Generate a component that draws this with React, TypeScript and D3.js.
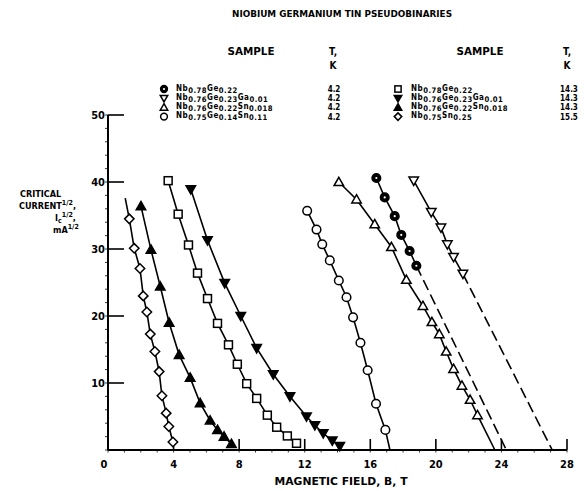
import React from 'react';
import * as d3 from 'd3';

type P = [number, number];

const xTickValues = [0, 4, 8, 12, 16, 20, 24, 28];
const yTickValues = [10, 20, 30, 40, 50];
const xMinorValues = d3.range(0, 29, 1);
const yMinorValues = d3.range(0, 51, 2);

// 15.5 K  Nb0.75Sn0.25 (open diamonds)
const diamond155: P[] = [[1.3, 34.5], [1.6, 30.1], [1.95, 27.1], [2.15, 23.0], [2.37, 20.6], [2.58, 17.3], [2.86, 14.7], [3.12, 11.7], [3.29, 8.1], [3.55, 5.5], [3.71, 3.5], [3.96, 1.2]];
const diamond155Start: P = [1.05, 37.6];
// 14.3 K  Nb0.76Ge0.22Sn0.018 (filled up triangles)
const filledUp143: P[] = [[2.01, 36.4], [2.62, 29.9], [3.19, 24.4], [3.73, 19.0], [4.34, 14.2], [5.01, 10.8], [5.62, 7.0], [6.23, 4.4], [6.68, 3.0], [7.08, 2.0], [7.53, 0.9]];
// 14.3 K  Nb0.78Ge0.22 (open squares)
const square143: P[] = [[3.67, 40.2], [4.28, 35.2], [4.91, 30.6], [5.46, 26.4], [6.07, 22.6], [6.68, 18.9], [7.35, 15.7], [7.89, 12.8], [8.46, 9.9], [9.07, 7.7], [9.72, 5.2], [10.29, 3.4], [10.94, 2.1], [11.5, 1.0]];
// 14.3 K  Nb0.76Ge0.23Ga0.01 (filled down triangles)
const filledDown143: P[] = [[5.05, 38.9], [6.07, 31.3], [7.12, 24.9], [8.1, 20.0], [9.07, 15.2], [10.08, 11.3], [11.1, 8.0], [12.11, 5.0], [12.62, 3.7], [13.13, 2.5], [13.68, 1.4], [14.14, 0.6]];
// 4.2 K  Nb0.75Ge0.14Sn0.11 (open circles)
const circle42: P[] = [[12.15, 35.7], [12.72, 32.9], [13.07, 30.7], [13.53, 28.3], [14.08, 25.3], [14.55, 22.8], [14.95, 19.8], [15.4, 16.0], [15.84, 11.9], [16.35, 6.9], [16.92, 3.0]];
const circle42End: P = [17.2, 0];
// 4.2 K  Nb0.76Ge0.22Sn0.018 (open up triangles)
const up42: P[] = [[14.08, 40.0], [15.16, 37.4], [16.27, 33.7], [17.29, 30.3], [18.2, 25.4], [19.21, 21.5], [19.76, 19.1], [20.21, 17.3], [20.63, 14.7], [21.08, 12.1], [21.59, 9.6], [22.09, 7.5], [22.54, 5.2]];
const up42End: P = [23.6, 0];
// 4.2 K  Nb0.78Ge0.22 (filled circles)
const filledCircle42: P[] = [[16.37, 40.6], [16.88, 37.7], [17.49, 34.9], [17.89, 32.1], [18.4, 29.7], [18.81, 27.5]];
const filledCircle42Extrap: P = [24.3, 0];
// 4.2 K  Nb0.76Ge0.23Ga0.01 (open down triangles)
const down42: P[] = [[18.65, 40.2], [19.72, 35.5], [20.31, 33.2], [20.7, 30.7], [21.08, 28.8], [21.65, 26.3]];
const down42Extrap: P = [27.1, 0];

type Part = [string, boolean];
const legendFormulasLeft: Part[][] = [
  [['Nb', false], ['0.78', true], ['Ge', false], ['0.22', true]],
  [['Nb', false], ['0.76', true], ['Ge', false], ['0.23', true], ['Ga', false], ['0.01', true]],
  [['Nb', false], ['0.76', true], ['Ge', false], ['0.22', true], ['Sn', false], ['0.018', true]],
  [['Nb', false], ['0.75', true], ['Ge', false], ['0.14', true], ['Sn', false], ['0.11', true]],
];
const legendTempsLeft = ['4.2', '4.2', '4.2', '4.2'];
const legendShapesLeft = ['circle', 'down', 'up', 'circle'];
const legendFillLeft = [true, false, false, false];
const legendFormulasRight: Part[][] = [
  [['Nb', false], ['0.78', true], ['Ge', false], ['0.22', true]],
  [['Nb', false], ['0.76', true], ['Ge', false], ['0.23', true], ['Ga', false], ['0.01', true]],
  [['Nb', false], ['0.76', true], ['Ge', false], ['0.22', true], ['Sn', false], ['0.018', true]],
  [['Nb', false], ['0.75', true], ['Sn', false], ['0.25', true]],
];
const legendTempsRight = ['14.3', '14.3', '14.3', '15.5'];
const legendShapesRight = ['square', 'down', 'up', 'diamond'];
const legendFillRight = [false, true, true, false];

const FONT = "'DejaVu Sans Condensed', 'DejaVu Sans', sans-serif";

function Marker({ shape, cx, cy, filled, r = 4.3 }: { shape: string; cx: number; cy: number; filled: boolean; r?: number }) {
  const fill = filled ? '#000' : '#fff';
  const sw = 1.5;
  if (shape === 'circle') {
    return (
      <g>
        <circle cx={cx} cy={cy} r={r} fill={fill} stroke="#000" strokeWidth={sw} />
        {filled && <circle cx={cx} cy={cy} r={1.1} fill="#fff" />}
      </g>
    );
  }
  if (shape === 'square') {
    const s = r * 0.92;
    return <rect x={cx - s} y={cy - s} width={2 * s} height={2 * s} fill={fill} stroke="#000" strokeWidth={sw} />;
  }
  if (shape === 'diamond') {
    const s = r * 1.1;
    return <path d={`M${cx},${cy - s}L${cx + s},${cy}L${cx},${cy + s}L${cx - s},${cy}Z`} fill={fill} stroke="#000" strokeWidth={sw} />;
  }
  if (shape === 'up') {
    const s = r * 1.1;
    return <path d={`M${cx},${cy - s}L${cx + s},${cy + s * 0.75}L${cx - s},${cy + s * 0.75}Z`} fill={fill} stroke="#000" strokeWidth={sw} />;
  }
  const s = r * 1.1;
  return <path d={`M${cx},${cy + s}L${cx + s},${cy - s * 0.75}L${cx - s},${cy - s * 0.75}Z`} fill={fill} stroke="#000" strokeWidth={sw} />;
}

function Formula({ x, y, parts }: { x: number; y: number; parts: Part[] }) {
  return (
    <text x={x} y={y} fontFamily={FONT} fontWeight="bold" fontSize={8} letterSpacing={0.5} fill="#000">
      {parts.map((p, i) => {
        const prevSub = i > 0 && parts[i - 1][1];
        let dy = 0;
        if (p[1] && !prevSub) dy = 2.2;
        if (!p[1] && prevSub) dy = -2.2;
        return (
          <tspan key={i} dy={dy} fontSize={p[1] ? 7.6 : 8}>{p[0]}</tspan>
        );
      })}
    </text>
  );
}

export default function App() {
  const x = d3.scaleLinear().domain([0, 28]).range([108, 567]);
  const y = d3.scaleLinear().domain([0, 50]).range([450, 115]);
  const line = d3.line<P>().x((d) => x(d[0])).y((d) => y(d[1]));

  const series = [
    { pts: diamond155, shape: 'diamond', filled: false, start: diamond155Start as P | null, end: null as P | null, dash: null as P | null },
    { pts: filledUp143, shape: 'up', filled: true, start: null, end: null, dash: null },
    { pts: square143, shape: 'square', filled: false, start: null, end: null, dash: null },
    { pts: filledDown143, shape: 'down', filled: true, start: null, end: null, dash: null },
    { pts: circle42, shape: 'circle', filled: false, start: null, end: circle42End, dash: null },
    { pts: up42, shape: 'up', filled: false, start: null, end: up42End, dash: null },
    { pts: filledCircle42, shape: 'circle', filled: true, start: null, end: null, dash: filledCircle42Extrap },
    { pts: down42, shape: 'down', filled: false, start: null, end: null, dash: down42Extrap },
  ];

  const rowsY = [89, 98.2, 107.4, 116.6];

  return (
    <svg width={584} height={491} style={{ position: 'absolute', left: 0, top: 0, background: '#fff' }}>
      <rect x={0} y={0} width={584} height={491} fill="#fff" />
      {/* title */}
      <text x={232} y={17} fontFamily={FONT} fontWeight="bold" fontSize={9} textLength={220} lengthAdjust="spacingAndGlyphs">NIOBIUM GERMANIUM TIN  PSEUDOBINARIES</text>

      {/* legend headers */}
      <text x={251} y={55} textAnchor="middle" fontFamily={FONT} fontWeight="bold" fontSize={10} textLength={47} lengthAdjust="spacingAndGlyphs">SAMPLE</text>
      <text x={333} y={55} textAnchor="middle" fontFamily={FONT} fontWeight="bold" fontSize={10}>T,</text>
      <text x={333} y={69} textAnchor="middle" fontFamily={FONT} fontWeight="bold" fontSize={10}>K</text>
      <text x={480} y={55} textAnchor="middle" fontFamily={FONT} fontWeight="bold" fontSize={10} textLength={47} lengthAdjust="spacingAndGlyphs">SAMPLE</text>
      <text x={567} y={55} textAnchor="middle" fontFamily={FONT} fontWeight="bold" fontSize={10}>T,</text>
      <text x={567} y={69} textAnchor="middle" fontFamily={FONT} fontWeight="bold" fontSize={10}>K</text>

      {legendFormulasLeft.map((f, i) => (
        <g key={'l' + i}>
          <Marker shape={legendShapesLeft[i]} cx={164} cy={rowsY[i]} filled={legendFillLeft[i]} r={3.4} />
          <Formula x={176} y={rowsY[i] + 1.5} parts={f} />
          <text x={334} y={rowsY[i] + 3} textAnchor="middle" fontFamily={FONT} fontWeight="bold" fontSize={8}>{legendTempsLeft[i]}</text>
        </g>
      ))}
      {legendFormulasRight.map((f, i) => (
        <g key={'r' + i}>
          <Marker shape={legendShapesRight[i]} cx={398} cy={rowsY[i]} filled={legendFillRight[i]} r={3.4} />
          <Formula x={411} y={rowsY[i] + 1.5} parts={f} />
          <text x={569} y={rowsY[i] + 3} textAnchor="middle" fontFamily={FONT} fontWeight="bold" fontSize={8}>{legendTempsRight[i]}</text>
        </g>
      ))}

      {/* y axis */}
      <line x1={x(0)} x2={x(0)} y1={y(0)} y2={y(50)} stroke="#000" strokeWidth={2} />
      {yMinorValues.map((v) => (
        <line key={'ym' + v} x1={x(0) - 3} x2={x(0)} y1={y(v)} y2={y(v)} stroke="#000" strokeWidth={0.8} />
      ))}
      {yTickValues.map((v) => (
        <g key={'yt' + v}>
          <line x1={x(0)} x2={x(0) + 16} y1={y(v)} y2={y(v)} stroke="#000" strokeWidth={1.6} />
          <text x={x(0) - 3} y={y(v) + 4} textAnchor="end" fontFamily={FONT} fontWeight="bold" fontSize={11}>{v}</text>
        </g>
      ))}

      {/* x axis */}
      <line x1={x(0)} x2={x(28)} y1={y(0)} y2={y(0)} stroke="#000" strokeWidth={2} />
      {xMinorValues.map((v) => (
        <line key={'xm' + v} x1={x(v)} x2={x(v)} y1={y(0)} y2={y(0) + 2.5} stroke="#000" strokeWidth={0.8} />
      ))}
      {xTickValues.map((v) => (
        <g key={'xt' + v}>
          {v > 0 && <line x1={x(v)} x2={x(v)} y1={y(0)} y2={y(0) - 11} stroke="#000" strokeWidth={1.6} />}
          <text x={x(v) - (v === 0 ? 4 : 0)} y={468} textAnchor="middle" fontFamily={FONT} fontWeight="bold" fontSize={11}>{v}</text>
        </g>
      ))}
      <text x={341} y={485} textAnchor="middle" fontFamily={FONT} fontWeight="bold" fontSize={10} textLength={133} lengthAdjust="spacingAndGlyphs">MAGNETIC FIELD, B, T</text>

      {/* y label */}
      <g fontFamily={FONT} fontWeight="bold" fill="#000">
        <text x={20} y={197} fontSize={9}>CRITICAL</text>
        <text x={19} y={209} fontSize={9}>CURRENT<tspan dy={-4} fontSize={7}>1/2</tspan><tspan dy={4} fontSize={9}>,</tspan></text>
        <text x={55} y={221} fontSize={9}>I<tspan dy={2} fontSize={7}>c</tspan><tspan dy={-6} fontSize={7}>1/2</tspan><tspan dy={4} fontSize={9}>,</tspan></text>
        <text x={53} y={233} fontSize={9}>mA<tspan dy={-4} fontSize={7}>1/2</tspan></text>
      </g>

      {/* curves */}
      {series.map((s, i) => {
        const solid: P[] = [...(s.start ? [s.start] : []), ...s.pts, ...(s.end ? [s.end] : [])];
        return (
          <g key={'s' + i}>
            <path d={line(solid) || ''} fill="none" stroke="#000" strokeWidth={1.6} />
            {s.dash && (
              <path d={line([s.pts[s.pts.length - 1], s.dash]) || ''} fill="none" stroke="#000" strokeWidth={1.6} strokeDasharray="11,5" />
            )}
          </g>
        );
      })}
      {series.map((s, i) => (
        <g key={'m' + i}>
          {s.pts.map((p, j) => (
            <Marker key={j} shape={s.shape} cx={x(p[0])} cy={y(p[1])} filled={s.filled} />
          ))}
        </g>
      ))}
    </svg>
  );
}
